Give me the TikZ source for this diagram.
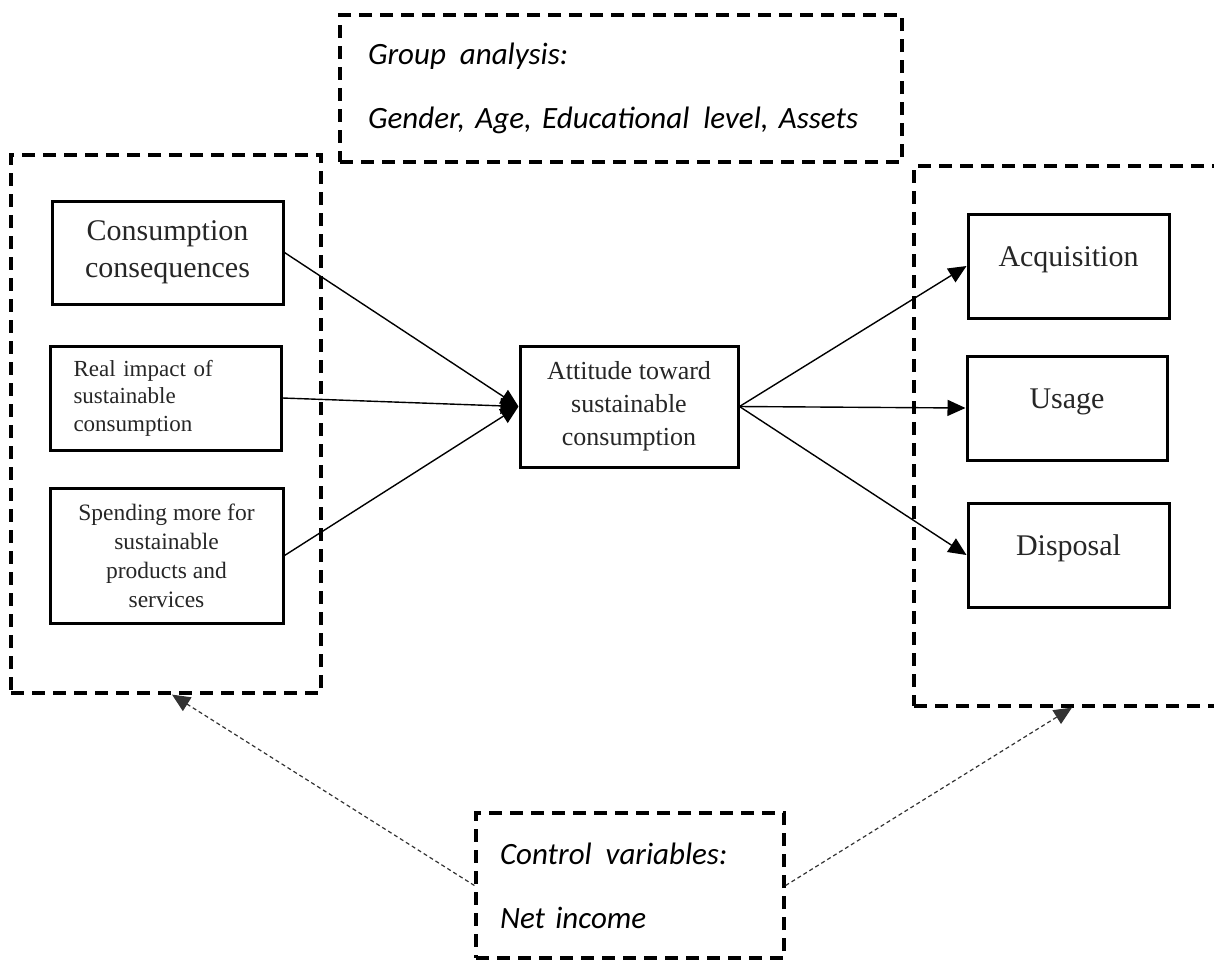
\documentclass[tikz,border=0pt]{standalone}
\usepackage{fontspec}
\setmainfont{Liberation Serif}
\newfontfamily\carlito{Carlito}
\usepackage{tikz}
\usetikzlibrary{arrows.meta, positioning}

\begin{document}
\begin{tikzpicture}[x=0.5pt, y=-0.5pt]
        % Styles
        \tikzstyle{block} = [draw, rectangle, line width=1.5pt, align=center, inner sep=0pt, text=black!85]
        \tikzstyle{grpbox} = [draw, rectangle, line width=1.6pt, dash pattern=on 6.5pt off 4pt, inner sep=0pt]
        \tikzstyle{notebox} = [grpbox, align=left, font=\carlito\itshape\fontsize{15.5}{32}\selectfont]
        \tikzstyle{arrow} = [-{Triangle[length=9pt, width=8pt]}, line width=0.7pt]
        \tikzstyle{ctrlarrow} = [-{Triangle[length=9pt, width=8pt]}, line width=0.6pt, black!80, dash pattern=on 2pt off 1.5pt]

        \clip (0,0) rectangle (1214,960);

        % Dashed groups
        \node [grpbox, minimum width=155pt, minimum height=269pt] (inputs) at (166,424) {};
        \node [grpbox, minimum width=158pt, minimum height=270pt] (outputs) at (1072,436) {};
        \node [notebox, text width=253pt, inner xsep=14pt, minimum height=73.5pt] (groups) at (621,88.5)
            {Group\hspace{0.45em}analysis:\\Gender, Age, Educational\hspace{0.45em}level, Assets};
        \node [notebox, text width=130pt, inner xsep=12pt, minimum height=72.5pt] (controls) at (630,885.5)
            {Control\hspace{0.45em}variables:\\Net income};

        % Nodes
        \node [block, minimum width=115.5pt, minimum height=51.5pt, font=\fontsize{15}{18.5}\selectfont] (cc) at (167.5,252.5) {Consumption\\consequences};
        \node [block, minimum width=115.5pt, minimum height=52pt, text width=92pt, align=left, font=\fontsize{11.5}{13.75}\selectfont] (ri) at (165.5,398) {Real impact of\\sustainable\\consumption};
        \node [block, minimum width=116.5pt, minimum height=67.5pt, font=\fontsize{11.75}{14.5}\selectfont] (sm) at (166.5,555.5) {Spending more for\\sustainable\\products and\\services};
        \node [block, minimum width=109pt, minimum height=60.5pt, font=\fontsize{13}{16.5}\selectfont] (att) at (629,406.5) {Attitude toward\\sustainable\\consumption};
        \node [block, minimum width=100.5pt, minimum height=52pt, text height=11pt, text depth=11pt, font=\fontsize{15}{18}\selectfont] (acq) at (1068.5,266) {Acquisition};
        \node [block, minimum width=100pt, minimum height=52pt, text height=11pt, text depth=11pt, font=\fontsize{15}{18}\selectfont] (usage) at (1067,408) {Usage};
        \node [block, minimum width=100.5pt, minimum height=52pt, text height=11pt, text depth=11pt, font=\fontsize{15}{18}\selectfont] (disp) at (1068.5,555) {Disposal};

        % Arrows
        \draw [arrow] (cc.east) -- (att.west);
        \draw [arrow] (ri.east) -- (att.west);
        \draw [arrow] (sm.east) -- (att.west);
        \draw [arrow] (att.east) -- (acq.west);
        \draw [arrow] (att.east) -- (usage.west);
        \draw [arrow] (att.east) -- (disp.west);
        \draw [ctrlarrow] (controls.west) -- ([xshift=3pt]inputs.south);
        \draw [ctrlarrow] (controls.east) -- (outputs.south);
    \end{tikzpicture}
\end{document}
